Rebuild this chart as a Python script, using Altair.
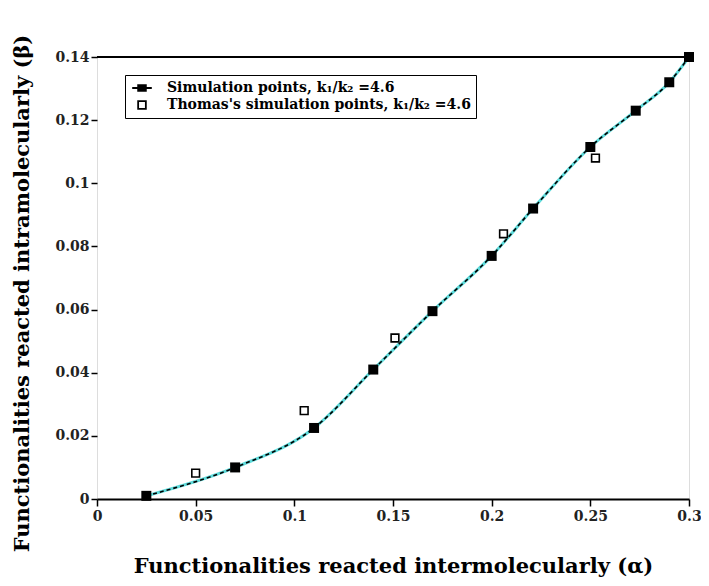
import altair as alt
import pandas as pd

# Simulation points (filled squares, joined by the curve)
sim_x = [0.025, 0.07, 0.11, 0.14, 0.17, 0.20, 0.221, 0.25, 0.273, 0.29, 0.30]
sim_y = [0.001, 0.010, 0.0225, 0.041, 0.0595, 0.077, 0.092, 0.1115, 0.123, 0.132, 0.14]

# Thomas's simulation points (open symbols)
th_x = [0.05, 0.105, 0.151, 0.206, 0.2526]
th_y = [0.0082, 0.028, 0.051, 0.084, 0.108]

series_names = ["Simulation points, k\u2081/k\u2082 =4.6",
                "Thomas's simulation points, k\u2081/k\u2082 =4.6"]

x_ticks = [0, 0.05, 0.1, 0.15, 0.2, 0.25, 0.3]
y_ticks = [0, 0.02, 0.04, 0.06, 0.08, 0.1, 0.12, 0.14]
x_domain = [0, 0.3]
y_domain = [0, 0.14]

x_title = "Functionalities reacted intermolecularly (\u03b1)"
y_title = "Functionalities reacted intramolecularly (\u03b2)"

FONT = "DejaVu Serif"

df_sim = pd.DataFrame({"x": sim_x, "y": sim_y, "series": series_names[0]})
df_th = pd.DataFrame({"x": th_x, "y": th_y, "series": series_names[1]})
df_frame = pd.DataFrame({"x": [x_domain[0]], "x2": [x_domain[1]], "y": [y_domain[1]]})

X = alt.X("x:Q", scale=alt.Scale(domain=x_domain, nice=False),
          axis=alt.Axis(values=x_ticks, format="~g", title=x_title,
                        grid=False, domain=True, domainColor="black", domainWidth=2,
                        ticks=True, tickColor="black", tickSize=7, tickWidth=1.5,
                        labelFont=FONT, labelFontSize=14, labelFontWeight="bold",
                        labelColor="#222", labelPadding=3, labelFlush=False,
                        titleFont=FONT, titleFontSize=21, titleFontWeight="bold",
                        titleColor="black", titlePadding=32))
Y = alt.Y("y:Q", scale=alt.Scale(domain=y_domain, nice=False),
          axis=alt.Axis(values=y_ticks, format="~g", title=y_title,
                        grid=False, domain=False,
                        ticks=True, tickColor="black", tickSize=6, tickWidth=1.5,
                        labelFont=FONT, labelFontSize=14, labelFontWeight="bold",
                        labelColor="#222", labelPadding=2,
                        titleFont=FONT, titleFontSize=21, titleFontWeight="bold",
                        titleColor="black", titlePadding=22, titleY=236))

frame = alt.Chart(df_frame).mark_rule(color="black", strokeWidth=2).encode(
    x=X, x2="x2:Q", y=Y)

cyan = alt.Chart(df_sim).mark_line(color="#5edcdc", strokeWidth=3,
                                   interpolate="monotone").encode(X, Y)
dash = alt.Chart(df_sim).mark_line(color="black", strokeWidth=1.6, strokeDash=[4, 3],
                                   interpolate="monotone").encode(X, Y)
sim_pts = alt.Chart(df_sim).mark_point(shape="square", filled=True, color="black",
                                       size=100, opacity=1).encode(X, Y)

legend_paths = ["M-1.4,0H1.4M-0.55,-0.4H0.55V0.4H-0.55Z",
                "M-0.55,-0.55H0.55V0.55H-0.55Z"]

legend = alt.Legend(title=None, orient="none", legendX=28, legendY=18,
                    strokeColor="black", fillColor="white",
                    padding=5, rowPadding=2, labelOffset=17, symbolOffset=4,
                    labelFont=FONT, labelFontSize=14,
                    labelFontWeight="bold", labelColor="black",
                    labelLimit=600, symbolStrokeWidth=1.8, symbolSize=196)

th_pts = alt.Chart(df_th).mark_point(size=196, opacity=1, strokeWidth=1.6,
                                     filled=False).encode(
    X, Y,
    shape=alt.Shape("series:N", scale=alt.Scale(domain=series_names, range=legend_paths),
                    legend=legend),
    fill=alt.Fill("series:N", scale=alt.Scale(domain=series_names, range=["black", "white"]),
                  legend=legend),
    stroke=alt.Stroke("series:N", scale=alt.Scale(domain=series_names, range=["black", "black"]),
                      legend=legend),
)

chart = alt.layer(frame, cyan, dash, sim_pts, th_pts).properties(
    width=592, height=442,
    autosize=alt.AutoSizeParams(type="none"),
    padding={"left": 89, "top": 49, "right": 12, "bottom": 79},
).configure_view(stroke="transparent", strokeWidth=0).configure(background="white")

chart.save("out.html", embed_options={"renderer": "svg", "actions": False})
